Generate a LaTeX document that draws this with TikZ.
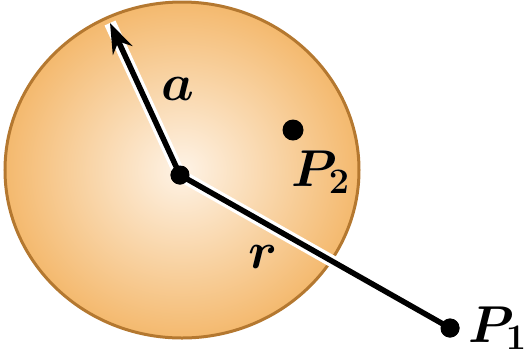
\documentclass[tikz,border=0pt]{standalone}
\usepackage{amsmath}
\usepackage[outline]{contour}
\usetikzlibrary{arrows.meta}
\contourlength{1.4pt}
\definecolor{ballrim}{HTML}{B47830}
\definecolor{ballout}{HTML}{F4B96E}
\definecolor{ballin}{HTML}{FEF3E6}

\begin{document}
\begin{tikzpicture}[x=0.4pt, y=-0.4pt,
    every node/.style={font=\fontsize{22}{24}\selectfont\boldmath, inner sep=0pt},
    lbl/.style={anchor=base},
    dot/.style={circle, fill=black, minimum size=7.6pt, inner sep=0pt},
    halo/.style={white, line width=4.8pt},
    ln/.style={black, line width=2.2pt},
    a/.style={-{Stealth[length=12pt, width=8.5pt]}}
]
\useasboundingbox (0,0) rectangle (527,362);
% charged sphere
\shade[inner color=ballin, outer color=ballout] (182,170) ellipse [x radius=177, y radius=168];
\draw[ballrim, line width=1.2pt] (182,170) ellipse [x radius=177, y radius=168];
% points
\coordinate (tip) at (110,23);
\node[dot] (o)  at (180,175) {};
\node[dot, minimum size=8.4pt] (p2) at (293,130) {};
\node[dot] (p1) at (450,328) {};
% radius a and distance r
\draw[halo] (o.center) -- (tip);
\draw[halo] (o.center) -- (p1.center);
\draw[ln, a] (o.center) -- (tip);
\draw[ln] (o.center) -- (p1.center);
\node[dot] at (o) {};
\node[dot] at (p1) {};
% labels
\node[lbl] (la)  at (178,100) {\contour{white}{$a$}};
\node[lbl] (lr)  at (263,268) {\contour{white}{$r$}};
\node[lbl, anchor=base west] (lp2) at (291,186) {\contour{white}{$P_2$}};
\node[lbl, anchor=base west] (lp1) at (468,342) {\contour{white}{$P_1$}};
\end{tikzpicture}
\end{document}
